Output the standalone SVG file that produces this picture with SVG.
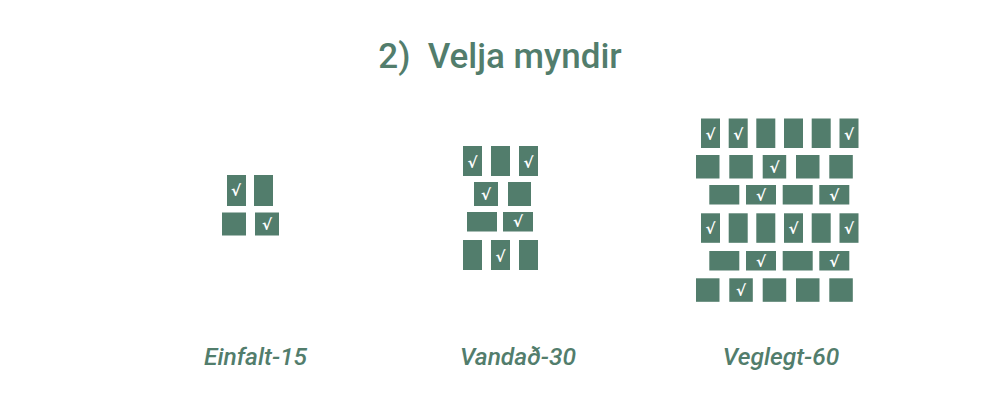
<svg xmlns="http://www.w3.org/2000/svg" width="1000" height="400" viewBox="0 0 1000 400">
<style>
.p{fill:#527d6c}
.c{fill:#ffffff;font-family:"DejaVu Sans",sans-serif;font-weight:bold;font-size:15px;text-anchor:middle}
.t{fill:#527d6c;font-family:Roboto,"Liberation Sans",sans-serif;font-weight:500;font-size:35px;text-anchor:middle;white-space:pre}
.l{fill:#527d6c;font-family:Roboto,"Liberation Sans",sans-serif;font-weight:500;font-style:italic;font-size:24.5px;text-anchor:middle}
</style>
<rect width="1000" height="400" fill="#ffffff"/>
<g id="title"><text class="t" x="500" y="68" xml:space="preserve">2)  Velja myndir</text></g>
<g id="einfalt">
<rect class="p" x="227" y="175" width="19" height="31"/>
<rect class="p" x="254" y="175" width="19" height="31"/>
<rect class="p" x="222" y="212.5" width="24" height="23"/>
<rect class="p" x="255" y="212.5" width="24" height="23"/>
<text class="c" x="236" y="196">√</text>
<text class="c" x="267" y="230">√</text>
<text class="l" x="255.5" y="365">Einfalt-15</text>
</g>
<g id="vandad">
<rect class="p" x="463" y="146" width="19" height="30"/>
<rect class="p" x="491" y="146" width="19" height="30"/>
<rect class="p" x="519" y="146" width="19" height="30"/>
<rect class="p" x="474" y="182" width="24" height="24"/>
<rect class="p" x="508" y="182" width="23" height="24"/>
<rect class="p" x="467" y="212" width="30" height="19.5"/>
<rect class="p" x="503" y="212" width="30" height="19.5"/>
<rect class="p" x="463" y="240" width="19" height="30"/>
<rect class="p" x="491" y="240" width="19" height="30"/>
<rect class="p" x="519" y="240" width="19" height="30"/>
<text class="c" x="472.5" y="167.5">√</text>
<text class="c" x="528.5" y="167.5">√</text>
<text class="c" x="486" y="200">√</text>
<text class="c" x="518" y="227">√</text>
<text class="c" x="500.5" y="261.5">√</text>
<text class="l" x="518" y="365">Vandað-30</text>
</g>
<g id="veglegt">
<rect class="p" x="701" y="118.5" width="19" height="29.5"/>
<rect class="p" x="728.7" y="118.5" width="19" height="29.5"/>
<rect class="p" x="756.3" y="118.5" width="19" height="29.5"/>
<rect class="p" x="784" y="118.5" width="19" height="29.5"/>
<rect class="p" x="811.7" y="118.5" width="19" height="29.5"/>
<rect class="p" x="839.5" y="118.5" width="19" height="29.5"/>
<rect class="p" x="696" y="155" width="23.5" height="23.5"/>
<rect class="p" x="729.3" y="155" width="23.5" height="23.5"/>
<rect class="p" x="762.7" y="155" width="23.5" height="23.5"/>
<rect class="p" x="796" y="155" width="23.5" height="23.5"/>
<rect class="p" x="829.3" y="155" width="23.5" height="23.5"/>
<rect class="p" x="709.3" y="185" width="30" height="19.5"/>
<rect class="p" x="746" y="185" width="30" height="19.5"/>
<rect class="p" x="782.7" y="185" width="30" height="19.5"/>
<rect class="p" x="819.3" y="185" width="30" height="19.5"/>
<rect class="p" x="701" y="213.3" width="19" height="29.5"/>
<rect class="p" x="728.7" y="213.3" width="19" height="29.5"/>
<rect class="p" x="756.3" y="213.3" width="19" height="29.5"/>
<rect class="p" x="784" y="213.3" width="19" height="29.5"/>
<rect class="p" x="811.7" y="213.3" width="19" height="29.5"/>
<rect class="p" x="839.5" y="213.3" width="19" height="29.5"/>
<rect class="p" x="709.3" y="251" width="30" height="19.5"/>
<rect class="p" x="746" y="251" width="30" height="19.5"/>
<rect class="p" x="782.7" y="251" width="30" height="19.5"/>
<rect class="p" x="819.3" y="251" width="30" height="19.5"/>
<rect class="p" x="696" y="278.3" width="23.5" height="23.5"/>
<rect class="p" x="729.3" y="278.3" width="23.5" height="23.5"/>
<rect class="p" x="762.7" y="278.3" width="23.5" height="23.5"/>
<rect class="p" x="796" y="278.3" width="23.5" height="23.5"/>
<rect class="p" x="829.3" y="278.3" width="23.5" height="23.5"/>
<text class="c" x="710.5" y="139.5">√</text>
<text class="c" x="738.2" y="139.5">√</text>
<text class="c" x="849" y="139.5">√</text>
<text class="c" x="774.5" y="173">√</text>
<text class="c" x="761" y="201">√</text>
<text class="c" x="834.3" y="201">√</text>
<text class="c" x="710.5" y="234.3">√</text>
<text class="c" x="793.5" y="234.3">√</text>
<text class="c" x="849" y="234.3">√</text>
<text class="c" x="761" y="267">√</text>
<text class="c" x="834.3" y="267">√</text>
<text class="c" x="741" y="296.3">√</text>
<text class="l" x="781" y="365">Veglegt-60</text>
</g>
</svg>
